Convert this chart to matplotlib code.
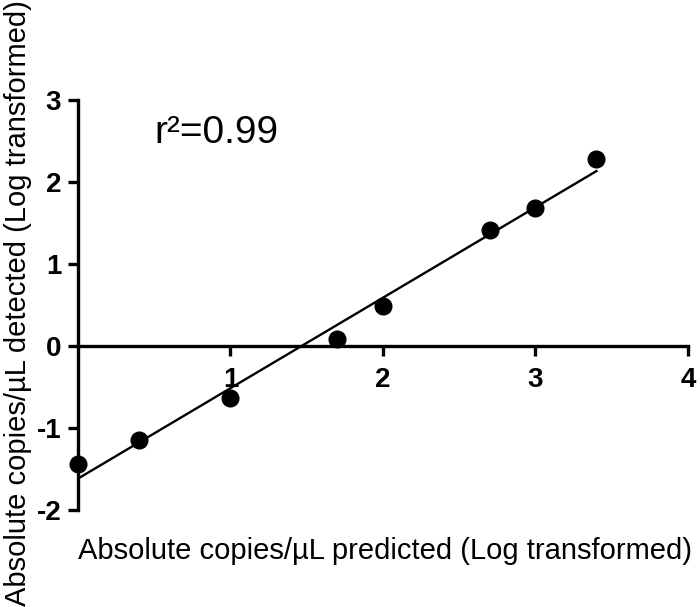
import numpy as np
import matplotlib
matplotlib.use('Agg')
import matplotlib.pyplot as plt

plt.rcParams['font.family'] = ['Liberation Sans', 'DejaVu Sans']
plt.rcParams['axes.unicode_minus'] = False

# data (log10 transformed)
predicted = [0.0, 0.4, 1.0, 1.7, 2.0, 2.7, 3.0, 3.4]
detected = [-1.44, -1.15, -0.63, 0.085, 0.49, 1.41, 1.68, 2.28]
xticks = [1, 2, 3, 4]
yticks = [-2, -1, 0, 1, 2, 3]

x = np.array(predicted)
y = np.array(detected)
slope, intercept = np.polyfit(x, y, 1)
xfit = np.array([x.min(), x.max()])

fig = plt.figure(figsize=(7, 6.07), dpi=100)
ax = fig.add_axes([0.1114, 0.1598, 0.8714, 0.6755])

ax.plot(xfit, slope * xfit + intercept, color='black', lw=1.7, zorder=2)
ax.plot(x, y, 'o', color='black', ms=12, zorder=3, clip_on=False)

ax.set_xlim(0, 4)
ax.set_ylim(-2, 3)

ax.spines['top'].set_visible(False)
ax.spines['right'].set_visible(False)
ax.spines['bottom'].set_position(('data', 0))
ax.spines['left'].set_linewidth(2.4)
ax.spines['bottom'].set_linewidth(2.4)

ax.set_xticks(xticks)
ax.set_yticks(yticks)
ax.tick_params(axis='both', direction='out', length=7, width=2.4, labelsize=20, pad=5)
ax.tick_params(axis='x', pad=8)
for lbl in ax.get_xticklabels() + ax.get_yticklabels():
    lbl.set_fontweight('bold')

fig.text(0.55, 0.092, 'Absolute copies/µL predicted (Log transformed)', ha='center', va='center', fontsize=21)
fig.text(0.026, 0.5, 'Absolute copies/µL detected (Log transformed)', ha='center', va='center',
         rotation=90, fontsize=21)
ax.text(0.5, 2.6, 'r²=0.99', fontsize=28, ha='left', va='center')

fig.savefig('out.png', dpi=100)
